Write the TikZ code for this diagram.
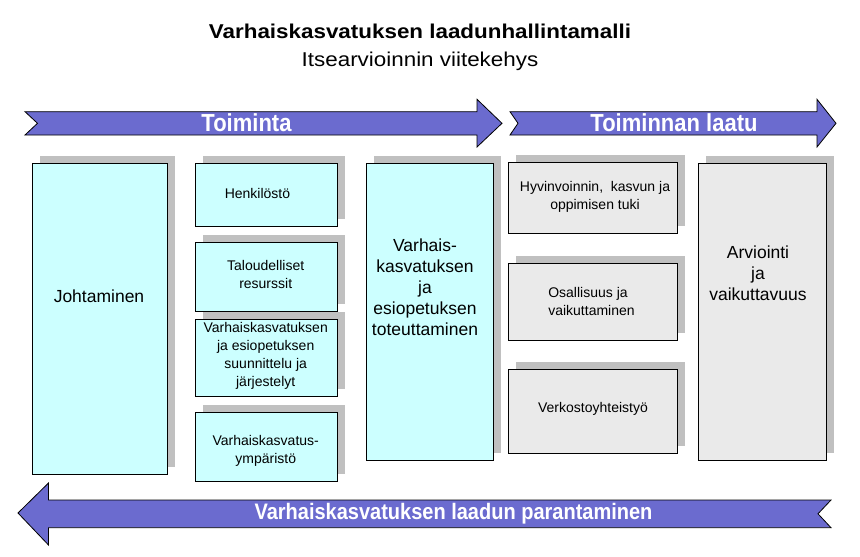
\documentclass[tikz,border=0pt]{standalone}
\usepackage{fontspec}
\setmainfont{Liberation Sans}
\usetikzlibrary{shadows}
\definecolor{arrowblue}{HTML}{6B6BCF}
\definecolor{boxcyan}{HTML}{CCFFFF}
\definecolor{boxgray}{HTML}{EAEAEA}
\definecolor{shadowgray}{HTML}{C0C0C0}
\begin{document}
\begin{tikzpicture}[x=1pt,y=-1pt,
  panel/.style={draw=black, line width=0.9pt, inner sep=0pt, anchor=north west,
    drop shadow={shadow xshift=7.5pt, shadow yshift=7.5pt, fill=shadowgray, opacity=1}},
  cyanpanel/.style={panel, fill=boxcyan},
  graypanel/.style={panel, fill=boxgray},
  smalltxt/.style={align=center, inner sep=0pt, font=\fontsize{14}{18}\selectfont},
  bigtxt/.style={align=center, inner sep=0pt, font=\fontsize{17.5}{21}\selectfont},
  banner/.style={fill=arrowblue, draw=black, line width=0.8pt},
  bannertxt/.style={anchor=base, inner sep=0pt, text=white, font=\bfseries}
]
\useasboundingbox (0,0) rectangle (860,557);
\fill[white] (0,0) rectangle (860,557);

% title
\node[anchor=base, inner sep=0pt] (title) at (420,38.3)
  {\fontsize{20}{24}\selectfont\bfseries\scalebox{1.12}[1]{Varhaiskasvatuksen laadunhallintamalli}};
\node[anchor=base, inner sep=0pt] (subtitle) at (420,66)
  {\fontsize{20}{24}\selectfont\scalebox{1.12}[1]{Itsearvioinnin viitekehys}};

% top arrows
\draw[banner] (25,111.7) -- (477,111.7) -- (477,99.3) -- (502,123.3) -- (477,147) -- (477,135)
  -- (25,135) -- (37.5,123.3) -- cycle;
\draw[banner] (510,111.7) -- (817,111.7) -- (817,99.3) -- (836,123.3) -- (817,147) -- (817,135)
  -- (510,135) -- (518,123.3) -- cycle;
\node[bannertxt] (toim) at (246.5,131) {\fontsize{22}{26}\selectfont\scalebox{1}[1.12]{Toiminta}};
\node[bannertxt] (laatu) at (674,131) {\fontsize{22}{26}\selectfont\scalebox{1}[1.12]{Toiminnan laatu}};

% bottom arrow
\draw[banner] (831,500) -- (48.5,500) -- (48.5,483) -- (18,513) -- (48.5,545) -- (48.5,527.7)
  -- (831,527.7) -- (818,513.8) -- cycle;
\node[bannertxt] (paran) at (453.5,519.3) {\fontsize{20}{24}\selectfont\scalebox{1}[1.12]{Varhaiskasvatuksen laadun parantaminen}};

% boxes
\node[cyanpanel, minimum width=135pt, minimum height=310.7pt] (joh) at (32.3,163.3) {};
\node[cyanpanel, minimum width=142pt, minimum height=63pt] (hen) at (195.3,163.3) {};
\node[cyanpanel, minimum width=142pt, minimum height=69.3pt] (tal) at (195.3,241.7) {};
\node[cyanpanel, minimum width=142pt, minimum height=77pt] (suu) at (195.3,319.3) {};
\node[cyanpanel, minimum width=142pt, minimum height=69.3pt] (ymp) at (195.3,411.7) {};
\node[cyanpanel, minimum width=127.6pt, minimum height=297pt] (tot) at (365.7,163.3) {};
\node[graypanel, minimum width=169.6pt, minimum height=70.7pt] (hyv) at (507.7,162.3) {};
\node[graypanel, minimum width=169.6pt, minimum height=77.6pt] (osa) at (507.7,262.7) {};
\node[graypanel, minimum width=169.6pt, minimum height=84.3pt] (ver) at (507.7,368.7) {};
\node[graypanel, minimum width=127.7pt, minimum height=297pt] (arv) at (698.3,163.3) {};

% texts
\node[bigtxt] (johT) at (99,296.7) {Johtaminen};
\node[smalltxt] (henT) at (257.5,193.3) {Henkilöstö};
\node[smalltxt] (talT) at (265.7,274.2) {Taloudelliset\\resurssit};
\node[smalltxt] (suuT) at (265.7,356.3) {Varhaiskasvatuksen\\ja esiopetuksen\\suunnittelu ja\\järjestelyt};
\node[smalltxt] (ympT) at (265.7,451) {Varhaiskasvatus-\\ympäristö};
\node[bigtxt] (totT) at (425,287) {Varhais-\\kasvatuksen\\ja\\esiopetuksen\\toteuttaminen};
\node[smalltxt] (hyvT) at (595,196.7) {Hyvinvoinnin,~ kasvun ja\\oppimisen tuki};
\node[smalltxt, align=left] (osaT) at (591.5,301) {Osallisuus ja\\vaikuttaminen};
\node[smalltxt] (verT) at (593,409.3) {Verkostoyhteistyö};
\node[bigtxt] (arvT) at (758,273) {Arviointi\\ja\\vaikuttavuus};
\end{tikzpicture}
\end{document}
